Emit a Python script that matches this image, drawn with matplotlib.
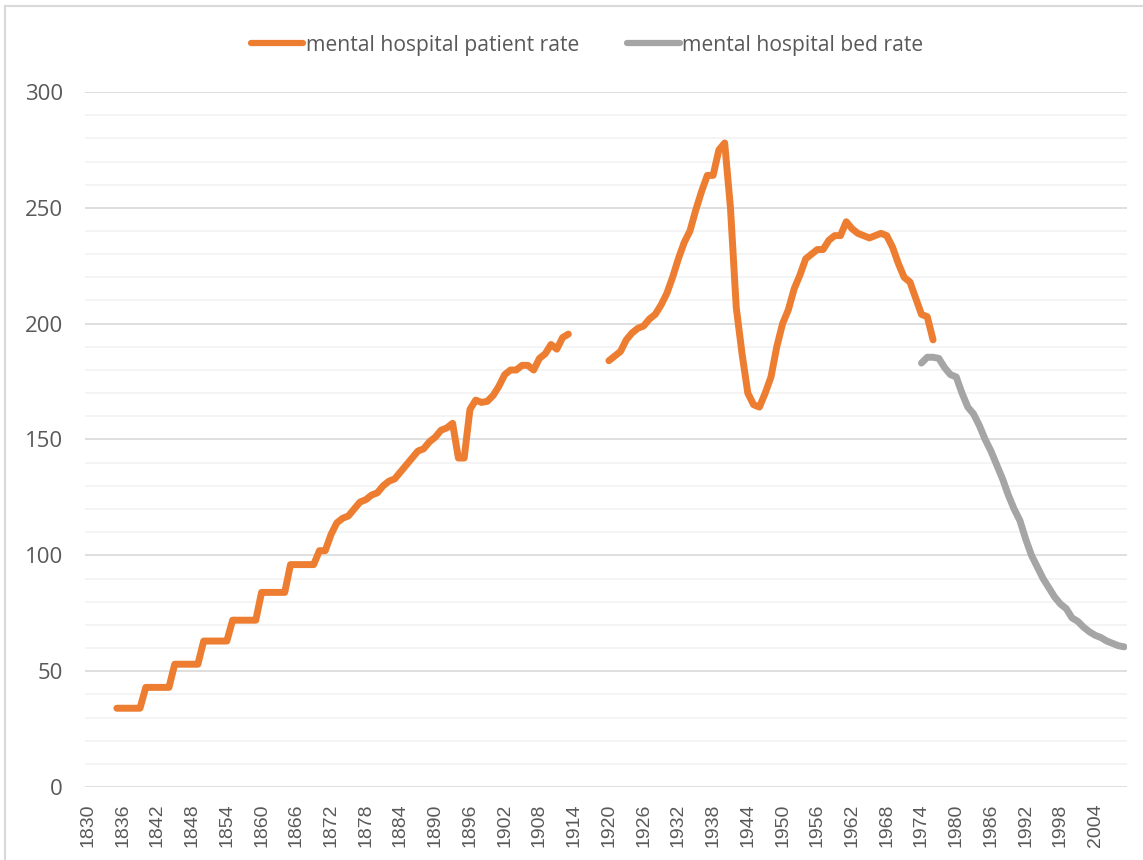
import matplotlib.pyplot as plt
import numpy as np
from matplotlib.lines import Line2D

# mental hospital patients per 100k
patient_start_1 = 1835
patient_rate_1 = [34, 34, 34, 34, 34,
                  43, 43, 43, 43, 43,
                  53, 53, 53, 53, 53,
                  63, 63, 63, 63, 63,
                  72, 72, 72, 72, 72,
                  84, 84, 84, 84, 84,
                  96, 96, 96, 96, 96,
                  102, 102, 109, 114, 116, 117, 120, 123, 124, 126,
                  127, 130, 132, 133, 136, 139, 142, 145, 146, 149,
                  151, 154, 155, 157, 142, 142, 163, 167, 166, 166.5,
                  169, 173, 178, 180, 180, 182, 182, 180, 185, 187,
                  191, 189, 194, 195.5]

patient_start_2 = 1920
patient_rate_2 = [184, 186, 188, 193, 196, 198, 199, 202, 204, 208,
                  213, 220, 228, 235, 240, 249, 257, 264, 264, 275,
                  278, 250, 207, 187, 170, 165, 164, 170, 177, 190,
                  200, 206, 215, 221, 228, 230, 232, 232, 236, 238,
                  238, 244, 241, 239, 238, 237, 238, 239, 238, 233,
                  226, 220, 218, 211, 204, 203, 193]

bed_start = 1974
bed_rate = [183, 185.5, 185.5, 185, 181, 178, 177, 170, 164, 161,
            156, 150, 145, 139, 133, 126, 120, 115, 107, 100,
            95, 90, 86, 82, 79, 77, 73, 71.5, 69, 67,
            65.5, 64.5, 63, 62, 61, 60.5]

first_year, last_year = 1830, 2009
years = np.arange(first_year, last_year + 1)


def on_years(start, vals):
    s = np.full(len(years), np.nan)
    i = start - first_year
    s[i:i + len(vals)] = vals
    return s


patient = on_years(patient_start_1, patient_rate_1)
patient2 = on_years(patient_start_2, patient_rate_2)
patient = np.where(np.isnan(patient), patient2, patient)
beds = on_years(bed_start, bed_rate)

orange = '#ED7D31'
grey = '#A5A5A5'
txt = '#595959'

fig = plt.figure(figsize=(11.43, 8.6), dpi=100)
ax = fig.add_axes([85 / 1143, 1 - 787 / 860, (1127 - 85) / 1143, (787 - 92) / 860])

ax.plot(years, patient, color=orange, lw=5, solid_capstyle='round',
        solid_joinstyle='round', label='mental hospital patient rate')
ax.plot(years, beds, color=grey, lw=5, solid_capstyle='round',
        solid_joinstyle='round', label='mental hospital bed rate')

ax.set_xlim(first_year - 0.5, last_year + 0.5)
ax.set_ylim(0, 300)
ax.set_yticks(np.arange(0, 301, 50))
ax.set_yticks(np.arange(0, 301, 10), minor=True)
ax.grid(which='major', axis='y', color='#D9D9D9', lw=1.2)
ax.grid(which='minor', axis='y', color='#F2F2F2', lw=1.2)
ax.set_axisbelow(True)
for sp in ax.spines.values():
    sp.set_visible(False)

xt = np.arange(1830, 2005, 6)
ax.set_xticks(xt)
ax.set_xticklabels([str(y) for y in xt], rotation=90, fontsize=14,
                   family='Liberation Sans', color=txt)
ax.tick_params(axis='both', which='both', length=0)
ax.tick_params(axis='x', pad=12)
ax.tick_params(axis='y', pad=16)
for lab in ax.get_yticklabels():
    lab.set_family('Open Sans')
    lab.set_fontsize(16)
    lab.set_color(txt)

leg = fig.legend(loc='center', bbox_to_anchor=(587 / 1143, 1 - 45 / 860), ncol=2,
                 frameon=False, handlelength=2.5, handletextpad=0.1,
                 columnspacing=2.3, prop={'family': 'Open Sans', 'size': 15.2})
for t in leg.get_texts():
    t.set_color(txt)
for h in leg.legend_handles:
    h.set_linewidth(4.5)

# chart area border (left and top edge visible)
fig.add_artist(Line2D([5 / 1143, 5 / 1143], [0, 1 - 6 / 860], color='#D9D9D9', lw=1.5))
fig.add_artist(Line2D([5 / 1143, 1], [1 - 6 / 860, 1 - 6 / 860], color='#D9D9D9', lw=1.5))

fig.savefig('out.png', dpi=100)
